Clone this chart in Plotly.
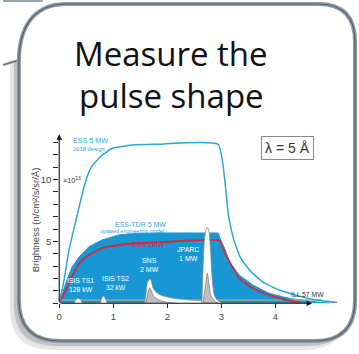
import plotly.graph_objects as go

W, H = 359, 354

# ---------------- data (time in ms, brightness in 1e13 n/cm2/s/sr/A) ----------------
ess5_t = [0.0, 0.09, 0.18, 0.34, 0.46, 0.58, 0.76, 0.98, 1.35, 1.77, 2.94, 3.13, 3.24, 3.36, 3.55, 3.76, 4.07, 4.37, 4.65, 5.14]
ess5_v = [0.0, 1.9, 4.3, 7.27, 9.42, 10.9, 11.84, 12.52, 12.79, 12.84, 12.84, 7.13, 4.98, 3.63, 2.55, 1.74, 1.07, 0.67, 0.35, 0.06]

tdr_t = [0.0, 0.12, 0.24, 0.37, 0.55, 0.79, 1.10, 1.40, 1.90, 2.94, 3.00, 3.06, 3.15, 3.33, 3.58, 3.88, 4.25, 4.65, 5.01]
tdr_v = [0.0, 1.62, 2.96, 3.76, 4.57, 5.11, 5.52, 5.64, 5.68, 5.68, 4.98, 4.44, 3.36, 2.29, 1.48, 0.81, 0.40, 0.15, 0.02]

ess2_t = [0.0, 0.15, 0.28, 0.40, 0.55, 0.79, 1.10, 1.40, 1.90, 2.97, 3.03, 3.15, 3.33, 3.58, 3.88, 4.19, 4.46]
ess2_v = [0.0, 1.34, 2.55, 3.36, 3.90, 4.44, 4.71, 4.85, 4.95, 5.05, 4.39, 3.36, 2.02, 1.21, 0.67, 0.27, 0.06]

ill_t = [0.0, 4.86]
ill_v = [0.27, 0.27]

sns_t = [1.58, 1.61, 1.63, 1.67, 1.70, 1.74, 1.80, 1.90, 2.14, 2.54, 2.90, 3.08]
sns_v = [0.0, 0.91, 1.64, 1.96, 1.84, 1.21, 0.87, 0.63, 0.39, 0.23, 0.15, 0.0]
sns_in_t = [1.60, 1.64, 1.67, 1.70, 1.75, 1.85, 2.00, 2.20]
sns_in_v = [0.0, 0.8, 1.25, 1.05, 0.55, 0.25, 0.08, 0.0]

jparc_t = [2.64, 2.66, 2.68, 2.71, 2.74, 2.77, 2.80, 2.82, 2.84, 2.87, 2.92, 3.03]
jparc_v = [0.0, 2.69, 4.71, 5.84, 6.14, 5.84, 4.31, 2.69, 1.48, 0.67, 0.27, 0.0]
jparc_in_t = [2.66, 2.70, 2.74, 2.77, 2.80, 2.86, 2.95]
jparc_in_v = [0.0, 1.2, 2.42, 1.6, 0.7, 0.25, 0.0]

ts1_t = [0.27, 0.31, 0.35, 0.39, 0.43]
ts1_v = [0.0, 0.3, 0.4, 0.3, 0.0]
ts2_t = [0.76, 0.79, 0.82, 0.85, 0.89]
ts2_v = [0.0, 0.45, 0.58, 0.4, 0.0]

x_ticks = [0, 1, 2, 3, 4]
x_ticktext = ["0", "1", "2", "3", "4"]
y_ticks = list(range(0, 14))
y_ticktext = ["5" if v == 5 else ("10" if v == 10 else "") for v in y_ticks]

# ---------------- colours ----------------
FILL = "#1797d4"
LBLUE = "#2aa6df"
RED = "#d12a3b"
ILL = "#c9a26f"
GRAYL = "#8a8a8a"

fig = go.Figure()

fig.add_trace(go.Scatter(x=tdr_t, y=tdr_v, mode="lines", fill="tozeroy",
                         fillcolor=FILL, line=dict(color=FILL, width=1)))
fig.add_trace(go.Scatter(x=ill_t, y=ill_v, mode="lines",
                         line=dict(color=ILL, width=1.6), opacity=0.85))
fig.add_trace(go.Scatter(x=ess2_t, y=ess2_v, mode="lines",
                         line=dict(color=RED, width=1.8, shape="spline", smoothing=0.5)))
fig.add_trace(go.Scatter(x=ess5_t, y=ess5_v, mode="lines",
                         line=dict(color=LBLUE, width=1.5, shape="spline", smoothing=0.4)))
for tt, vv in [(sns_t, sns_v), (jparc_t, jparc_v), (ts1_t, ts1_v), (ts2_t, ts2_v)]:
    fig.add_trace(go.Scatter(x=tt, y=vv, mode="lines", fill="toself", fillcolor="white",
                             line=dict(color=GRAYL, width=0.8, shape="spline", smoothing=0.6)))
for tt, vv in [(sns_in_t, sns_in_v), (jparc_in_t, jparc_in_v)]:
    fig.add_trace(go.Scatter(x=tt, y=vv, mode="lines", fill="toself", fillcolor="#bdbdbd",
                             line=dict(color="#777777", width=0.7, shape="spline", smoothing=0.6)))

# ---------------- geometry ----------------
X0, PXMS = 56.7, 54.5
Y0, PXU = 303.3, 12.38
XMAX, YMAX = 5.3, 14.0
dom_x = [X0 / W, (X0 + XMAX * PXMS) / W]
dom_y = [(H - Y0) / H, (H - (Y0 - YMAX * PXU)) / H]

FONT = "Liberation Sans, Arial, sans-serif"

fig.update_xaxes(range=[0, XMAX], domain=dom_x, showgrid=False, zeroline=False, showline=False,
                 tickvals=x_ticks, ticktext=x_ticktext, ticks="outside", ticklen=4,
                 tickcolor="#222", tickwidth=1, tickfont=dict(family=FONT, size=9.5, color="#444"))
fig.update_yaxes(range=[0, YMAX], domain=dom_y, showgrid=False, zeroline=False, showline=False,
                 tickvals=y_ticks, ticktext=y_ticktext, ticks="outside", ticklen=5,
                 tickcolor="#222", tickwidth=1, tickfont=dict(family=FONT, size=9.5, color="#444"))


def px2paper(x, y):
    return x / W, 1 - y / H


def path(cmds):
    out = []
    for c in cmds:
        op = c[0]
        pts = c[1:]
        coords = []
        for i in range(0, len(pts), 2):
            px, py = px2paper(pts[i], pts[i + 1])
            coords.append(f"{px:.4f},{py:.4f}")
        out.append(op + " " + " ".join(coords) if coords else op)
    return " ".join(out)


def bubble(dx=0, dy=0):
    return path([
        ("M", 16 + dx, 62 + dy),
        ("C", 16 + dx, 28 + dy, 30 + dx, 5 + dy, 62 + dx, 4 + dy),
        ("L", 318 + dx, 4 + dy),
        ("Q", 355 + dx, 4 + dy, 355 + dx, 42 + dy),
        ("L", 355 + dx, 300 + dy),
        ("Q", 355 + dx, 341 + dy, 314 + dx, 341 + dy),
        ("L", 58 + dx, 341 + dy),
        ("Q", 16 + dx, 341 + dy, 16 + dx, 300 + dy),
        ("Z",),
    ])


shapes = []
# shadows
shapes.append(dict(type="path", xref="paper", yref="paper", layer="below",
                   path=bubble(-9, 9), fillcolor="rgba(0,0,0,0.10)", line=dict(width=0)))
shapes.append(dict(type="path", xref="paper", yref="paper", layer="below",
                   path=bubble(-5, 5), fillcolor="rgba(0,0,0,0.16)", line=dict(width=0)))
# tail
shapes.append(dict(type="path", xref="paper", yref="paper", layer="below",
                   path=path([("M", 0, 0), ("L", 40, 0), ("L", 20, 30), ("L", 16, 60), ("L", 0, 65), ("Z",)]),
                   fillcolor="white", line=dict(width=0)))
shapes.append(dict(type="path", xref="paper", yref="paper", layer="below",
                   path=path([("M", 0, 65), ("L", 16, 60)]),
                   line=dict(color="#6d7a87", width=2)))
shapes.append(dict(type="path", xref="paper", yref="paper", layer="below",
                   path=path([("M", 0, 1), ("L", 40, 1)]),
                   line=dict(color="#9aa4ae", width=2)))
# bubble body
shapes.append(dict(type="path", xref="paper", yref="paper", layer="below",
                   path=bubble(), fillcolor="white", line=dict(color="#8d99a5", width=4)))
shapes.append(dict(type="path", xref="paper", yref="paper", layer="below",
                   path=bubble(), fillcolor="rgba(0,0,0,0)", line=dict(color="#56626e", width=1.2)))
fig.update_layout(shapes=shapes)

ann = []
# axes arrows
ann.append(dict(x=0, y=13.65, ax=0, ay=0, xref="x", yref="y", axref="x", ayref="y", text="",
                showarrow=True, arrowhead=2, arrowsize=1, arrowwidth=1.1, arrowcolor="#111", standoff=0))
ann.append(dict(x=4.68, y=0, ax=0, ay=0, xref="x", yref="y", axref="x", ayref="y", text="",
                showarrow=True, arrowhead=2, arrowsize=1, arrowwidth=1.1, arrowcolor="#111", standoff=0))


def label(t, v, text, size, color, **kw):
    d = dict(x=t, y=v, xref="x", yref="y", text=text, showarrow=False,
             xanchor="center", yanchor="middle",
             font=dict(family=FONT, size=size, color=color))
    d.update(kw)
    ann.append(d)


def plabel(xp, yp, text, size, color, family=FONT, **kw):
    d = dict(x=xp / W, y=1 - yp / H, xref="paper", yref="paper", text=text, showarrow=False,
             xanchor="center", yanchor="middle",
             font=dict(family=family, size=size, color=color))
    d.update(kw)
    ann.append(d)


label(0.58, 13.13, "ESS 5 MW", 7.2, LBLUE)
label(0.55, 12.46, "2018 design", 5.8, LBLUE)
label(1.50, 6.38, "ESS-TDR 5 MW", 7.0, LBLUE)
label(1.35, 5.84, "updated engineering model", 5.3, LBLUE)
label(1.65, 4.72, "ESS 2MW", 7.0, RED)
label(0.39, 1.48, "ISIS TS1<br>128 kW", 6.8, "white")
label(1.04, 1.64, "ISIS TS2<br>32 kW", 6.8, "white")
label(1.67, 3.10, "SNS<br>2 MW", 7.0, "white")
label(2.38, 3.95, "JPARC<br>1 MW", 7.0, "white")
label(4.59, 0.73, "ILL 57 MW", 6.8, "#333")
label(4.62, -0.68, "time (ms)", 8.3, "#333")
label(0.04, 10.0, "×10<sup>13</sup>", 7.2, "#333", xanchor="left")

plabel(286.5, 148, "λ = 5 Å", 14, "#333", bordercolor="#888", borderwidth=1, borderpad=3,
       bgcolor="white")
plabel(32.5, 220, "Brightness (n/cm²/s/sr/Å)", 9.5, "#444", textangle=-90)

TF = "Open Sans, sans-serif"
plabel(169.5, 53.5, "Measure the", 33, "#111", family=TF)
plabel(170, 95, "pulse shape", 33, "#111", family=TF)

fig.update_layout(annotations=ann, width=W, height=H, margin=dict(l=0, r=0, t=0, b=0),
                  paper_bgcolor="white", plot_bgcolor="rgba(0,0,0,0)", showlegend=False)

fig.write_html("out.html")
